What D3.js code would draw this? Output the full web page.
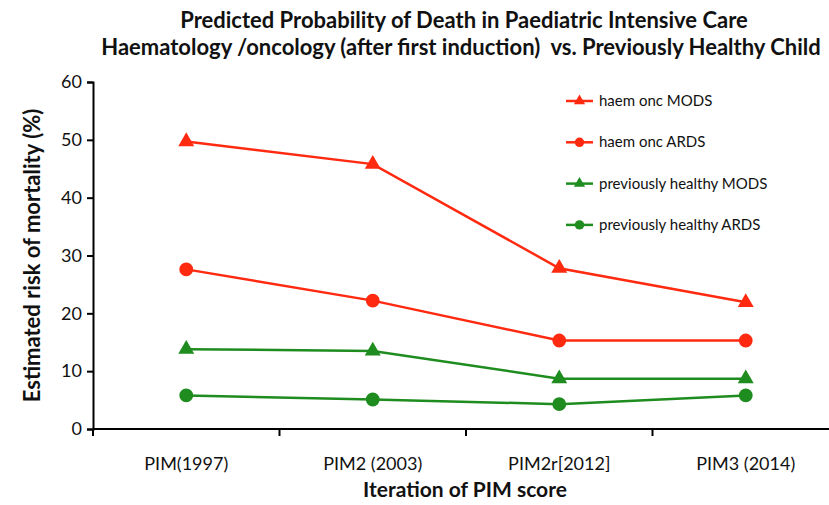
<!DOCTYPE html>
<html>
<head>
<meta charset="utf-8">
<script src="https://cdn.jsdelivr.net/npm/d3@7"></script>
<style>
  body { margin: 0; background: #fff; }
  text { font-family: Lato, "Open Sans", sans-serif; }
</style>
</head>
<body>
<div id="chart"></div>
<script>
const categories = ['PIM(1997)', 'PIM2 (2003)', 'PIM2r[2012]', 'PIM3 (2014)'];
const yTicks = [0, 10, 20, 30, 40, 50, 60];

const haemOncMODS = [49.7, 45.8, 27.8, 21.9];
const haemOncARDS = [27.6, 22.2, 15.3, 15.3];
const healthyMODS = [13.8, 13.5, 8.7, 8.7];
const healthyARDS = [5.8, 5.1, 4.3, 5.8];

const seriesNames = ['haem onc MODS', 'haem onc ARDS', 'previously healthy MODS', 'previously healthy ARDS'];

const red = '#ff2a10';
const green = '#1e8c1e';

const series = [
  { name: seriesNames[0], values: haemOncMODS, color: red, shape: d3.symbolTriangle },
  { name: seriesNames[1], values: haemOncARDS, color: red, shape: d3.symbolCircle },
  { name: seriesNames[2], values: healthyMODS, color: green, shape: d3.symbolTriangle },
  { name: seriesNames[3], values: healthyARDS, color: green, shape: d3.symbolCircle },
];

const width = 829;
const height = 505;
const margin = { top: 82, right: 0, bottom: 76, left: 93 };

const svg = d3.select('#chart')
  .append('svg')
  .attr('width', width)
  .attr('height', height);

// x band scale, points in the middle of each band
const x = d3.scaleBand()
  .domain(categories)
  .range([margin.left, margin.left + 186.5 * 4]);

const y = d3.scaleLinear()
  .domain([0, 60])
  .range([height - margin.bottom, margin.top]);

// title
svg.append('text')
  .attr('x', 464).attr('y', 28)
  .attr('text-anchor', 'middle')
  .attr('font-size', 22).attr('font-weight', 'bold')
  .attr('fill', '#111')
  .text('Predicted Probability of Death in Paediatric Intensive Care');
svg.append('text')
  .attr('x', 461).attr('y', 55)
  .attr('text-anchor', 'middle')
  .style('white-space', 'pre')
  .attr('font-size', 22).attr('font-weight', 'bold')
  .attr('fill', '#111')
  .text('Haematology /oncology (after first induction)  vs. Previously Healthy Child');

// y axis
const yAxis = svg.append('g')
  .attr('transform', `translate(${margin.left},0)`)
  .call(d3.axisLeft(y).tickValues(yTicks).tickSize(6).tickPadding(5));
yAxis.select('.domain').attr('stroke', '#000').attr('stroke-width', 2);
yAxis.selectAll('.tick line').attr('stroke-width', 2);
yAxis.selectAll('.tick text').attr('font-size', 18).attr('fill', '#111');

// x axis, ticks on band edges
const xAxis = svg.append('g')
  .attr('transform', `translate(0,${y(0)})`);
xAxis.append('line')
  .attr('x1', margin.left).attr('x2', width)
  .attr('stroke', '#000').attr('stroke-width', 2);
xAxis.selectAll('.edge')
  .data(categories)
  .enter()
  .append('line')
  .attr('x1', d => x(d)).attr('x2', d => x(d))
  .attr('y1', 0).attr('y2', 7)
  .attr('stroke', '#000').attr('stroke-width', 2);
xAxis.selectAll('.lbl')
  .data(categories)
  .enter()
  .append('text')
  .attr('x', d => x(d) + x.bandwidth() / 2)
  .attr('y', 41)
  .attr('text-anchor', 'middle')
  .attr('font-size', 18).attr('fill', '#111')
  .text(d => d);

// axis titles
svg.append('text')
  .attr('transform', `translate(40,${y(30)}) rotate(-90)`)
  .attr('text-anchor', 'middle')
  .attr('font-size', 22).attr('font-weight', 'bold')
  .attr('fill', '#111')
  .text('Estimated risk of mortality (%)');
svg.append('text')
  .attr('x', 465).attr('y', 497)
  .attr('text-anchor', 'middle')
  .attr('font-size', 21).attr('font-weight', 'bold')
  .attr('fill', '#111')
  .text('Iteration of PIM score');

const line = d3.line()
  .x((d, i) => x(categories[i]) + x.bandwidth() / 2)
  .y(d => y(d));

const groups = svg.selectAll('.series')
  .data(series)
  .enter()
  .append('g');

groups.append('path')
  .attr('d', d => line(d.values))
  .attr('fill', 'none')
  .attr('stroke', d => d.color)
  .attr('stroke-width', 2.5);

groups.each(function (s) {
  d3.select(this).selectAll('path.pt')
    .data(s.values)
    .enter()
    .append('path')
    .attr('class', 'pt')
    .attr('d', d3.symbol().type(s.shape).size(s.shape === d3.symbolCircle ? 150 : 110))
    .attr('fill', s.color)
    .attr('transform', (d, i) => `translate(${x(categories[i]) + x.bandwidth() / 2},${y(d)})`);
});

// legend
const legend = svg.append('g')
  .selectAll('g')
  .data(series)
  .enter()
  .append('g')
  .attr('transform', (d, i) => `translate(566,${101 + i * 41.3})`);
legend.append('line')
  .attr('x1', 0).attr('x2', 27)
  .attr('stroke', d => d.color).attr('stroke-width', 2.5);
legend.append('path')
  .attr('d', d => d3.symbol().type(d.shape).size(d.shape === d3.symbolCircle ? 70 : 55)())
  .attr('fill', d => d.color)
  .attr('transform', 'translate(13.5,0)');
legend.append('text')
  .attr('x', 33).attr('y', 5)
  .attr('font-size', 15).attr('fill', '#111')
  .text(d => d.name);
</script>
</body>
</html>
